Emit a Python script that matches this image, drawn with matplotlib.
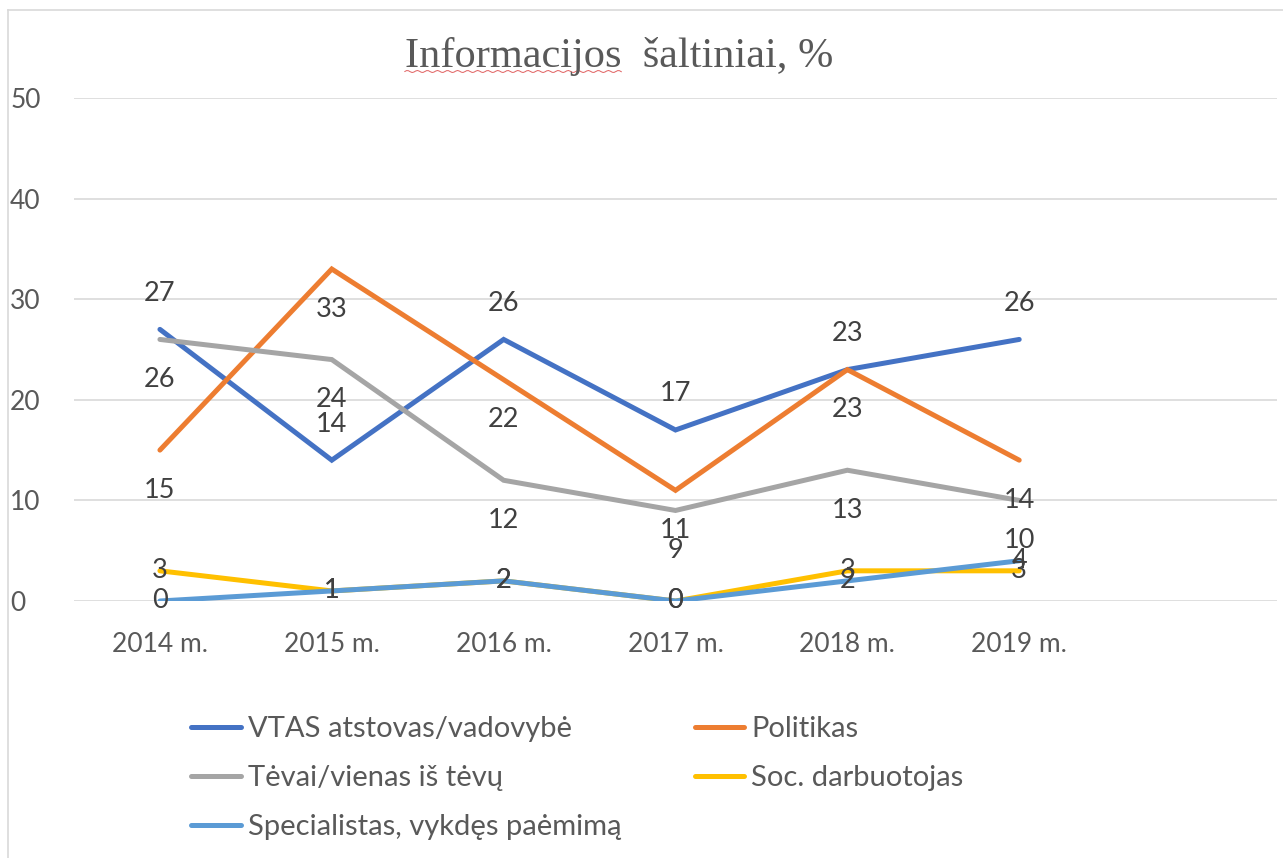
import matplotlib
matplotlib.use("Agg")
import matplotlib.pyplot as plt
from matplotlib.lines import Line2D
import numpy as np

categories = ["2014 m.", "2015 m.", "2016 m.", "2017 m.", "2018 m.", "2019 m."]
series_names = ["VTAS atstovas/vadovybė", "Politikas", "Tėvai/vienas iš tėvų",
                "Soc. darbuotojas", "Specialistas, vykdęs paėmimą"]
vtas = [27, 14, 26, 17, 23, 26]
politikas = [15, 33, 22, 11, 23, 14]
tevai = [26, 24, 12, 9, 13, 10]
soc = [3, 1, 2, 0, 3, 3]
specialistas = [0, 1, 2, 0, 2, 4]
yticks = [0, 10, 20, 30, 40, 50]
title = "Informacijos  šaltiniai, %"
title_first_word = "Informacijos"

colors = ["#4472C4", "#ED7D31", "#A5A5A5", "#FFC000", "#5B9BD5"]
label_offsets = [26, -29, -29, 0, 0]  # points

plt.rcParams['font.family'] = ['Lato', 'DejaVu Sans']

W, H = 1283, 858
fig = plt.figure(figsize=(W / 100, H / 100), dpi=100)
ax = fig.add_axes([74 / W, 1 - 601 / H, (1277 - 74) / W, (601 - 98) / H])

x = list(range(len(categories)))
data = [vtas, politikas, tevai, soc, specialistas]
handles = []
for name, vals, c in zip(series_names, data, colors):
    ln, = ax.plot(x, vals, color=c, lw=3.6, solid_capstyle='round',
                  solid_joinstyle='miter', label=name, zorder=3)
    handles.append(ln)

for vals, off in zip(data, label_offsets):
    for xi, v in zip(x, vals):
        ax.annotate(str(v), (xi, v), xytext=(0, off), textcoords='offset points',
                    ha='center', va='center', fontsize=19.5, color='#404040', zorder=5)

ax.set_xlim(-0.5, 6.5)
ax.set_ylim(0, 50)
ax.set_yticks(yticks)
ax.set_yticklabels([str(t) for t in yticks], ha='left')
ax.set_xticks(x)
ax.set_xticklabels(categories)
ax.tick_params(axis='y', length=0, pad=46, labelsize=19, labelcolor='#595959')
ax.tick_params(axis='x', length=0, pad=22, labelsize=19, labelcolor='#595959')
ax.grid(axis='y', color='#D9D9D9', lw=1.2, zorder=0)
ax.set_axisbelow(True)
for s in ax.spines.values():
    s.set_visible(False)

title_kw = dict(fontsize=30.5, color='#595959', family='Liberation Serif')
t = fig.text(619 / W, 1 - 57 / H, title, ha='center', va='center', **title_kw)

order = [0, 2, 4, 1, 3]
leg = fig.legend([handles[i] for i in order], [series_names[i] for i in order],
                 ncol=2, loc='upper left', bbox_to_anchor=(165 / W, 1 - 690 / H),
                 frameon=False, fontsize=21, handlelength=1.7, handletextpad=0.25,
                 labelspacing=0.78, columnspacing=2.5, labelcolor='#595959')
for lh in leg.get_lines():
    lh.set_linewidth(3.6)

# chart border (left and top visible)
fig.add_artist(Line2D([8 / W, 8 / W], [0, 1 - 10 / H], color='#D9D9D9', lw=1.2))
fig.add_artist(Line2D([8 / W, 1], [1 - 10 / H, 1 - 10 / H], color='#D9D9D9', lw=1.2))

# spell-check wavy underline under the first title word
fig.canvas.draw()
r = fig.canvas.get_renderer()
bb = t.get_window_extent(r)
tmp = fig.text(0, 0, title_first_word, **title_kw)
wbb = tmp.get_window_extent(r)
tmp.remove()
xs = np.linspace(bb.x0, bb.x0 + wbb.width, 120)
ys = (bb.y0 + 5) + 1.0 * np.sin((xs - bb.x0) / 1.6)
fig.add_artist(Line2D(xs / W, ys / H, color='#E06060', lw=0.7))

fig.savefig("out.png", dpi=100)
